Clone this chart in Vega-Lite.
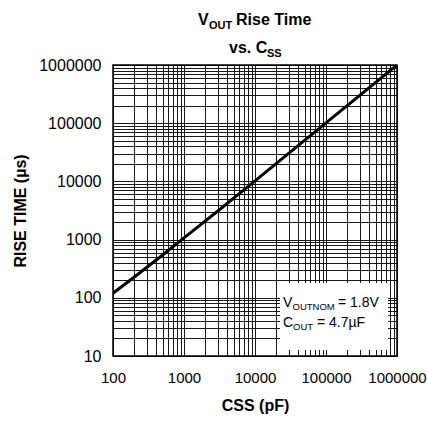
{
  "$schema": "https://vega.github.io/schema/vega-lite/v6.json",
  "width": 284,
  "height": 291,
  "autosize": {"type": "none"},
  "padding": {"left": 113, "top": 65, "right": 30, "bottom": 73},
  "config": {
    "font": "Liberation Sans",
    "view": {"stroke": "#000", "strokeWidth": 1.5},
    "axis": {"domain": false, "ticks": false, "grid": true, "gridColor": "#000", "gridWidth": 1, "gridOpacity": 0.9, "labelColor": "#000", "titleColor": "#000", "labelFont": "Liberation Sans", "titleFont": "Liberation Sans", "labelOverlap": false, "labelBound": false, "labelFlush": false}
  },
  "encoding": {
    "x": {
      "field": "css", "type": "quantitative",
      "scale": {"type": "log", "domain": [100, 1000000], "nice": false},
      "axis": {
        "title": "CSS (pF)", "titleFontSize": 16, "titleFontWeight": "bold", "titlePadding": 12,
        "labelFontSize": 15, "labelPadding": 14, "format": "d",
        "values": [100,200,300,400,500,600,700,800,900,1000,2000,3000,4000,5000,6000,7000,8000,9000,10000,20000,30000,40000,50000,60000,70000,80000,90000,100000,200000,300000,400000,500000,600000,700000,800000,900000,1000000],
        "labelExpr": "indexof(['100','1000','10000','100000','1000000'], datum.label) >= 0 ? datum.label : ''"
      }
    },
    "y": {
      "field": "rise", "type": "quantitative",
      "scale": {"type": "log", "domain": [10, 1000000], "nice": false},
      "axis": {
        "title": "RISE TIME (µs)", "titleFontSize": 16, "titleFontWeight": "bold", "titlePadding": 10,
        "labelFontSize": 16, "labelPadding": 12, "format": "d",
        "values": [10,20,30,40,50,60,70,80,90,100,200,300,400,500,600,700,800,900,1000,2000,3000,4000,5000,6000,7000,8000,9000,10000,20000,30000,40000,50000,60000,70000,80000,90000,100000,200000,300000,400000,500000,600000,700000,800000,900000,1000000],
        "labelExpr": "indexof(['10','100','1000','10000','100000','1000000'], datum.label) >= 0 ? datum.label : ''"
      }
    }
  },
  "layer": [
    {
      "data": {"values": [{"css": 22500, "css2": 747000, "rise": 12.7, "rise2": 180}]},
      "mark": {"type": "rect", "fill": "white", "strokeWidth": 0},
      "encoding": {"x2": {"field": "css2"}, "y2": {"field": "rise2"}}
    },
    {
      "data": {"values": [
        {"css": 100, "rise": 120},
        {"css": 200, "rise": 228},
        {"css": 500, "rise": 545},
        {"css": 1000, "rise": 1070},
        {"css": 3000, "rise": 3100},
        {"css": 10000, "rise": 10200},
        {"css": 100000, "rise": 101000},
        {"css": 1000000, "rise": 1000000}
      ]},
      "mark": {"type": "line", "color": "#000", "strokeWidth": 3, "clip": true}
    },
    {
      "data": {"values": [{"css": 10000, "rise": 4870000, "t": "V"}]},
      "mark": {"type": "text", "align": "left", "baseline": "alphabetic", "fontSize": 16, "fontWeight": "bold", "dx": -57, "color": "#000"},
      "encoding": {"text": {"field": "t"}}
    },
    {
      "data": {"values": [{"css": 10000, "rise": 4870000, "t": "OUT"}]},
      "mark": {"type": "text", "align": "left", "baseline": "alphabetic", "fontSize": 11, "fontWeight": "bold", "dx": -46, "dy": 4, "color": "#000"},
      "encoding": {"text": {"field": "t"}}
    },
    {
      "data": {"values": [{"css": 10000, "rise": 4870000, "t": "Rise Time"}]},
      "mark": {"type": "text", "align": "left", "baseline": "alphabetic", "fontSize": 16, "fontWeight": "bold", "dx": -19, "color": "#000"},
      "encoding": {"text": {"field": "t"}}
    },
    {
      "data": {"values": [{"css": 10000, "rise": 1610000, "t": "vs. C"}]},
      "mark": {"type": "text", "align": "left", "baseline": "alphabetic", "fontSize": 16, "fontWeight": "bold", "dx": -26, "color": "#000"},
      "encoding": {"text": {"field": "t"}}
    },
    {
      "data": {"values": [{"css": 10000, "rise": 1610000, "t": "SS"}]},
      "mark": {"type": "text", "align": "left", "baseline": "alphabetic", "fontSize": 11, "fontWeight": "bold", "dx": 12, "dy": 4, "color": "#000"},
      "encoding": {"text": {"field": "t"}}
    },
    {
      "data": {"values": [{"css": 24800, "rise": 69.5, "t": "V"}, {"css": 24800, "rise": 31.5, "t": "C"}]},
      "mark": {"type": "text", "align": "left", "baseline": "alphabetic", "fontSize": 14, "color": "#000"},
      "encoding": {"text": {"field": "t"}}
    },
    {
      "data": {"values": [{"css": 24800, "rise": 69.5, "t": "OUTNOM"}]},
      "mark": {"type": "text", "align": "left", "baseline": "alphabetic", "fontSize": 9.5, "dx": 9.5, "dy": 3, "color": "#000"},
      "encoding": {"text": {"field": "t"}}
    },
    {
      "data": {"values": [{"css": 24800, "rise": 69.5, "t": "= 1.8V"}]},
      "mark": {"type": "text", "align": "left", "baseline": "alphabetic", "fontSize": 14, "dx": 55, "color": "#000"},
      "encoding": {"text": {"field": "t"}}
    },
    {
      "data": {"values": [{"css": 24800, "rise": 31.5, "t": "OUT"}]},
      "mark": {"type": "text", "align": "left", "baseline": "alphabetic", "fontSize": 9.5, "dx": 10, "dy": 3, "color": "#000"},
      "encoding": {"text": {"field": "t"}}
    },
    {
      "data": {"values": [{"css": 24800, "rise": 31.5, "t": "= 4.7µF"}]},
      "mark": {"type": "text", "align": "left", "baseline": "alphabetic", "fontSize": 14, "dx": 34, "color": "#000"},
      "encoding": {"text": {"field": "t"}}
    }
  ]
}
